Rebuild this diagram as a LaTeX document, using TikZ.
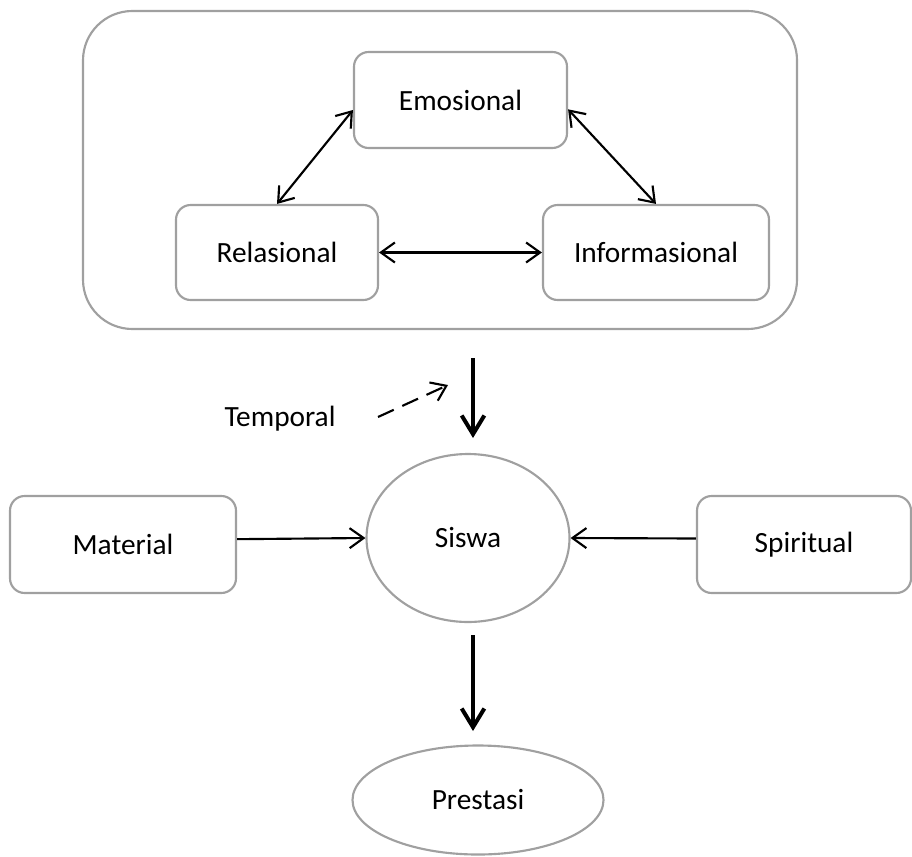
\documentclass[tikz,border=0pt]{standalone}
\usepackage{fontspec}
\setmainfont{Carlito}
\usetikzlibrary{arrows.meta,shapes.geometric}
\definecolor{abu}{RGB}{160,160,160}

\begin{document}
\begin{tikzpicture}[x=0.75pt,y=-0.75pt,
    >={Straight Barb[length=10.5pt,width=15pt]},
    kotak/.style={draw=abu,line width=1.6pt,rounded corners=11pt,inner sep=0pt,
      font=\fontsize{22}{26}\selectfont},
    elips/.style={draw=abu,line width=1.6pt,ellipse,inner sep=0pt,
      font=\fontsize{22}{26}\selectfont},
    panah/.style={line width=1.6pt},
    tebal/.style={line width=3pt,>={Straight Barb[length=14pt,width=17pt]}}]
    \useasboundingbox (0,0) rectangle (912,856);

    \node[kotak,rounded corners=37pt,minimum width=535.5pt,minimum height=238.5pt] (bingkai) at (440,170) {};
    \node[kotak,minimum width=159.75pt,minimum height=72pt] (emo) at (460.5,100) {Emosional};
    \node[kotak,minimum width=151.5pt,minimum height=71.25pt] (rel) at (277,252.5) {Relasional};
    \node[kotak,minimum width=169.5pt,minimum height=71.25pt] (inf) at (656,252.5) {Informasional};

    \node[elips,minimum width=152.25pt,minimum height=126pt] (siswa) at (468,538) {Siswa};
    \node[kotak,minimum width=169.5pt,minimum height=72.75pt] (mat) at (123,544.5) {Material};
    \node[kotak,minimum width=160.5pt,minimum height=72.75pt] (spi) at (804,544.5) {Spiritual};
    \node[elips,minimum width=188.25pt,minimum height=81.75pt] (prestasi) at (478,800) {Prestasi};
    \node[anchor=base,font=\fontsize{22}{26}\selectfont] (temporal) at (280,426) {Temporal};

    \coordinate (a1) at (473,358);
    \coordinate (a2) at (473,438);
    \coordinate (b1) at (473,635);
    \coordinate (b2) at (473,731);
    \coordinate (t1) at (378,417);
    \coordinate (t2) at (448,385);

    \draw[<->,panah] ([yshift=-7.5pt]emo.west) -- (rel.north);
    \draw[<->,panah] ([yshift=-7pt]emo.east) -- (inf.north);
    \draw[<->,panah] (rel.east) -- (inf.west);
    \draw[->,tebal] (a1) -- (a2);
    \draw[->,panah,dash pattern=on 13pt off 7pt] (t1) -- (t2);
    \draw[->,panah] ([yshift=4pt]mat.east) -- (siswa.west);
    \draw[->,panah] ([yshift=4.5pt]spi.west) -- (siswa.east);
    \draw[->,tebal] (b1) -- (b2);
\end{tikzpicture}
\end{document}
